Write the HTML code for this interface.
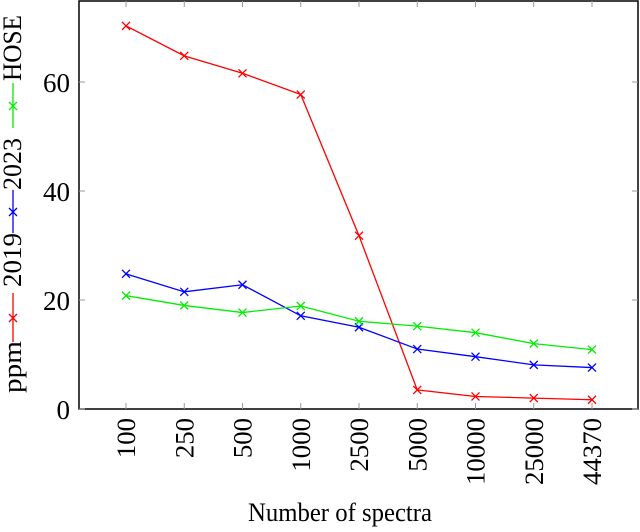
<!DOCTYPE html>
<html><head><meta charset="utf-8"><style>
body{margin:0;background:#fff}
svg text{font-family:"Liberation Serif",serif;fill:#000}
</style></head><body>
<svg id="c" width="640" height="527" xmlns="http://www.w3.org/2000/svg"></svg>
<script>
const categories=["100","250","500","1000","2500","5000","10000","25000","44370"];
const yTicks=[0,20,40,60];
const series2019=[70.3,64.8,61.6,57.7,31.8,3.5,2.3,2.0,1.7];
const series2023=[24.8,21.5,22.8,17.1,15.0,11.0,9.6,8.1,7.6];
const seriesHOSE=[20.8,19.0,17.7,18.9,16.1,15.2,14.0,12.0,10.9];
const NS="http://www.w3.org/2000/svg",svg=document.getElementById('c');
const L=79,R=638,T=1,B=409;
const x0=126,dx=58.25;
const xs=i=>x0+i*dx;
const ys=v=>B-v*(B-82)/60;
function mk(t,a,p){const e=document.createElementNS(NS,t);for(const k in a)e.setAttribute(k,a[k]);(p||svg).appendChild(e);return e;}
const frame=mk('rect',{x:L,y:T,width:R-L,height:B-T,fill:'none',stroke:'#000','stroke-width':1.5});


yTicks.forEach(v=>{
 const y=ys(v);
 const t1=mk('line',{x1:L,x2:L+6,y1:y,y2:y,stroke:'#999'});
 
 
 mk('line',{x1:R-6,x2:R,y1:y,y2:y,stroke:'#999'});
 const s=String(v);
 const tx=mk('text',{x:L-9,y:y+10,'text-anchor':'end','font-size':27,textLength:13.5*s.length,lengthAdjust:'spacingAndGlyphs'});
 tx.textContent=s;
 
 
});
categories.forEach((c,i)=>{
 const x=xs(i);
 const t1=mk('line',{x1:x,x2:x,y1:B-6,y2:B,stroke:'#999'});
 
 
 mk('line',{x1:x,x2:x,y1:T,y2:T+6,stroke:'#999'});
 const tx=mk('text',{transform:`translate(${x+9},418) rotate(-90)`,'text-anchor':'end','font-size':26,textLength:13.4*c.length,lengthAdjust:'spacingAndGlyphs'});
 tx.textContent=c;
 
 
});
function cross(x,y,col,p){mk('path',{d:`M${x-4},${y-4}L${x+4},${y+4}M${x-4},${y+4}L${x+4},${y-4}`,stroke:col,'stroke-width':1.3},p);}
[[series2019,'#f00','series-2019'],[series2023,'#00f','series-2023'],[seriesHOSE,'#0e0','series-hose']].forEach(([d,col,n])=>{
 const g=mk('g',{});
 
 
 mk('polyline',{points:d.map((v,i)=>xs(i)+','+ys(v)).join(' '),fill:'none',stroke:col,'stroke-width':1.3},g);
 d.forEach((v,i)=>cross(xs(i),ys(v),col,g));
});
const xl=mk('text',{x:248,y:521,'font-size':26,textLength:184,lengthAdjust:'spacingAndGlyphs'});
xl.textContent='Number of spectra';


const lg=mk('g',{transform:'translate(21,0)'});


function vt(s,yb,len){const t=mk('text',{transform:`translate(0,${yb}) rotate(-90)`,'font-size':26,textLength:len,lengthAdjust:'spacingAndGlyphs'},lg);t.textContent=s;return t;}
function vl(y1,y2,ym,col){mk('line',{x1:-8,x2:-8,y1:y1,y2:y2,stroke:col,'stroke-width':1.3},lg);cross(-8,ym,col,lg);}
vt('ppm',393,52);
vl(342,293,318,'#f00');
vt('2019',287,54);
vl(233,190,212,'#00f');
vt('2023',190,52);
vl(128,83,106,'#0e0');
vt('HOSE',81,66);
</script>
</body></html>
